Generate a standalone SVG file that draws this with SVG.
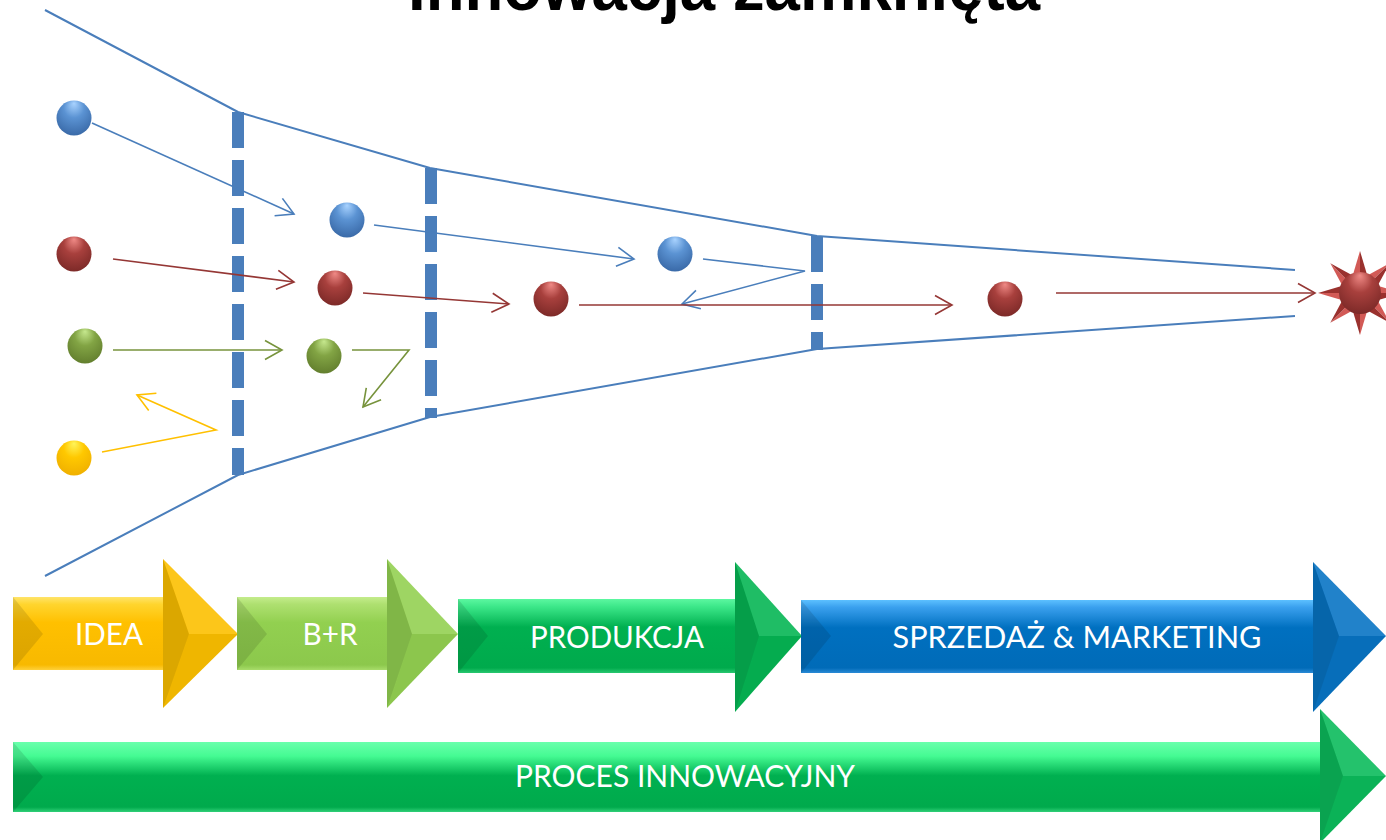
<svg xmlns="http://www.w3.org/2000/svg" width="1386" height="840" viewBox="0 0 1386 840">
  <defs>
    <style>
      .funnel { fill: none; stroke: #4a7ebb; stroke-width: 2; stroke-linejoin: round; }
      .barrier { stroke: #4a7ebb; stroke-width: 12; stroke-dasharray: 36 12; }
      .conn { fill: none; stroke-width: 1.6; stroke-linejoin: miter; }
      .c-blue { stroke: #4a7ebb; }
      .c-red { stroke: #953735; }
      .c-green { stroke: #77933c; }
      .c-yellow { stroke: #ffc000; }
      .label { font-family: Lato, "Open Sans", "Liberation Sans", sans-serif; font-size: 31px; fill: #ffffff; text-anchor: middle; }
      .title { font-family: "Liberation Sans", Arial, sans-serif; font-weight: bold; font-size: 68px; fill: #000000; }
      .lf { fill: #000000; fill-opacity: 0.13; }
      .tf { fill: #ffffff; fill-opacity: 0.1; }
      .bf { fill: #000000; fill-opacity: 0.05; }
      .notch { fill: #000000; fill-opacity: 0.11; }
    </style>

    <!-- open V arrowheads -->
    <marker id="ah-blue" viewBox="-20 -12 24 24" markerWidth="24" markerHeight="24" refX="0" refY="0" orient="auto" markerUnits="userSpaceOnUse" overflow="visible">
      <path d="M-17,-9.5 L0,0 L-17,9.5" fill="none" stroke="#4a7ebb" stroke-width="1.6"/>
    </marker>
    <marker id="ah-red" viewBox="-20 -12 24 24" markerWidth="24" markerHeight="24" refX="0" refY="0" orient="auto" markerUnits="userSpaceOnUse" overflow="visible">
      <path d="M-17,-9.5 L0,0 L-17,9.5" fill="none" stroke="#953735" stroke-width="1.6"/>
    </marker>
    <marker id="ah-green" viewBox="-20 -12 24 24" markerWidth="24" markerHeight="24" refX="0" refY="0" orient="auto" markerUnits="userSpaceOnUse" overflow="visible">
      <path d="M-17,-9.5 L0,0 L-17,9.5" fill="none" stroke="#77933c" stroke-width="1.6"/>
    </marker>
    <marker id="ah-yellow" viewBox="-20 -12 24 24" markerWidth="24" markerHeight="24" refX="0" refY="0" orient="auto" markerUnits="userSpaceOnUse" overflow="visible">
      <path d="M-17,-9.5 L0,0 L-17,9.5" fill="none" stroke="#ffc000" stroke-width="1.6"/>
    </marker>

    <!-- glossy spheres -->
    <radialGradient id="sph-blue" cx="50%" cy="35%" r="65%" fx="50%" fy="8%">
      <stop offset="0" stop-color="#a9d3ff"/>
      <stop offset="0.45" stop-color="#5b93d3"/>
      <stop offset="1" stop-color="#3a6aa8"/>
    </radialGradient>
    <radialGradient id="sph-red" cx="50%" cy="35%" r="65%" fx="50%" fy="8%">
      <stop offset="0" stop-color="#f08a86"/>
      <stop offset="0.45" stop-color="#a8403d"/>
      <stop offset="1" stop-color="#7d2a28"/>
    </radialGradient>
    <radialGradient id="sph-green" cx="50%" cy="35%" r="65%" fx="50%" fy="8%">
      <stop offset="0" stop-color="#c6e88e"/>
      <stop offset="0.45" stop-color="#82a444"/>
      <stop offset="1" stop-color="#637f2e"/>
    </radialGradient>
    <radialGradient id="sph-yellow" cx="50%" cy="35%" r="65%" fx="50%" fy="8%">
      <stop offset="0" stop-color="#fff45a"/>
      <stop offset="0.45" stop-color="#ffc800"/>
      <stop offset="1" stop-color="#f0b000"/>
    </radialGradient>

    <!-- block arrow bodies -->
    <linearGradient id="g-yellow" x1="0" y1="0" x2="0" y2="1">
      <stop offset="0" stop-color="#ffe46a"/>
      <stop offset="0.1" stop-color="#ffd52e"/>
      <stop offset="0.35" stop-color="#ffc000"/>
      <stop offset="0.93" stop-color="#f8b900"/>
      <stop offset="1" stop-color="#ffd03a"/>
    </linearGradient>
    <linearGradient id="g-lime" x1="0" y1="0" x2="0" y2="1">
      <stop offset="0" stop-color="#c4ec8c"/>
      <stop offset="0.1" stop-color="#aee070"/>
      <stop offset="0.35" stop-color="#92d050"/>
      <stop offset="0.93" stop-color="#8cc84c"/>
      <stop offset="1" stop-color="#a8dc6a"/>
    </linearGradient>
    <linearGradient id="g-green" x1="0" y1="0" x2="0" y2="1">
      <stop offset="0" stop-color="#5cf7a0"/>
      <stop offset="0.1" stop-color="#3de88a"/>
      <stop offset="0.38" stop-color="#00b050"/>
      <stop offset="0.93" stop-color="#00aa4c"/>
      <stop offset="1" stop-color="#28c870"/>
    </linearGradient>
    <linearGradient id="g-blue" x1="0" y1="0" x2="0" y2="1">
      <stop offset="0" stop-color="#5cc0ff"/>
      <stop offset="0.1" stop-color="#3aa0ee"/>
      <stop offset="0.38" stop-color="#0070c0"/>
      <stop offset="0.93" stop-color="#006bb8"/>
      <stop offset="1" stop-color="#2a8ad6"/>
    </linearGradient>
    <linearGradient id="g-proc" x1="0" y1="0" x2="0" y2="1">
      <stop offset="0" stop-color="#6affac"/>
      <stop offset="0.2" stop-color="#45fb93"/>
      <stop offset="0.48" stop-color="#00b050"/>
      <stop offset="0.93" stop-color="#00aa4c"/>
      <stop offset="1" stop-color="#30d078"/>
    </linearGradient>
  </defs>

  <rect x="0" y="0" width="1386" height="840" fill="#ffffff"/>

  <!-- heading, partly above the top edge -->
  <text class="title" x="408" y="10" textLength="632" lengthAdjust="spacingAndGlyphs">Innowacja zamknięta</text>

  <!-- funnel outline -->
  <g id="funnel">
    <polyline class="funnel" points="45,10 238,112 430,168 817,236 1295,270"/>
    <polyline class="funnel" points="45,576 238,475 430,417 817,349 1295,316"/>
  </g>

  <!-- dashed stage gates -->
  <g id="gates">
    <line class="barrier" x1="238" y1="112" x2="238" y2="475"/>
    <line class="barrier" x1="431" y1="168" x2="431" y2="418"/>
    <line class="barrier" x1="817" y1="236" x2="817" y2="350"/>
  </g>

  <!-- flows between ideas -->
  <g id="connectors">
    <path class="conn c-blue" d="M92,123 L294,214" marker-end="url(#ah-blue)"/>
    <path class="conn c-red" d="M113,259 L294,282" marker-end="url(#ah-red)"/>
    <path class="conn c-green" d="M113,350 L282,350" marker-end="url(#ah-green)"/>
    <path class="conn c-yellow" d="M102,452 L216,430 L137,395" marker-end="url(#ah-yellow)"/>
    <path class="conn c-blue" d="M374,225 L634,259" marker-end="url(#ah-blue)"/>
    <path class="conn c-red" d="M363,293 L509,304" marker-end="url(#ah-red)"/>
    <path class="conn c-green" d="M352,350 L409,350 L363,407" marker-end="url(#ah-green)"/>
    <path class="conn c-blue" d="M703,259 L805,271 L682,304" marker-end="url(#ah-blue)"/>
    <path class="conn c-red" d="M579,305 L952,305" marker-end="url(#ah-red)"/>
    <path class="conn c-red" d="M1056,293 L1315,293" marker-end="url(#ah-red)"/>
  </g>

  <!-- ideas -->
  <g id="idea-blue-1"><circle cx="74" cy="118" r="17.5" fill="url(#sph-blue)"/></g>
  <g id="idea-red-1"><circle cx="74" cy="254" r="17.5" fill="url(#sph-red)"/></g>
  <g id="idea-green-1"><circle cx="85" cy="346" r="17.5" fill="url(#sph-green)"/></g>
  <g id="idea-yellow-1"><circle cx="74" cy="458" r="17.5" fill="url(#sph-yellow)"/></g>
  <g id="idea-blue-2"><circle cx="347" cy="220" r="17.5" fill="url(#sph-blue)"/></g>
  <g id="idea-red-2"><circle cx="335" cy="288" r="17.5" fill="url(#sph-red)"/></g>
  <g id="idea-green-2"><circle cx="324" cy="356" r="17.5" fill="url(#sph-green)"/></g>
  <g id="idea-red-3"><circle cx="551" cy="299" r="17.5" fill="url(#sph-red)"/></g>
  <g id="idea-blue-3"><circle cx="675" cy="254" r="17.5" fill="url(#sph-blue)"/></g>
  <g id="idea-red-4"><circle cx="1005" cy="299" r="17.5" fill="url(#sph-red)"/></g>

  <!-- launched product: eight-point star -->
  <g id="product-star">
    <g fill="#d25a56">
      <polygon points="1352.7,275.4 1360,251 1360,293"/>
      <polygon points="1367.3,275.4 1389.7,263.3 1360,293"/>
      <polygon points="1377.6,285.7 1402,293 1360,293"/>
      <polygon points="1377.6,300.3 1389.7,322.7 1360,293"/>
      <polygon points="1367.3,310.6 1360,335 1360,293"/>
      <polygon points="1352.7,310.6 1330.3,322.7 1360,293"/>
      <polygon points="1342.4,300.3 1318,293 1360,293"/>
      <polygon points="1342.4,285.7 1330.3,263.3 1360,293"/>
    </g>
    <g fill="#9a312e">
      <polygon points="1367.3,275.4 1360,251 1360,293"/>
      <polygon points="1377.6,285.7 1389.7,263.3 1360,293"/>
      <polygon points="1377.6,300.3 1402,293 1360,293"/>
      <polygon points="1367.3,310.6 1389.7,322.7 1360,293"/>
      <polygon points="1352.7,310.6 1360,335 1360,293"/>
      <polygon points="1342.4,300.3 1330.3,322.7 1360,293"/>
      <polygon points="1342.4,285.7 1318,293 1360,293"/>
      <polygon points="1352.7,275.4 1330.3,263.3 1360,293"/>
    </g>
    <circle cx="1360" cy="293" r="21" fill="url(#sph-red)"/>
  </g>

  <!-- process stages -->
  <g id="stage-idea">
    <rect x="13" y="597" width="152" height="73" fill="url(#g-yellow)"/>
    <polygon points="163,559 238,634 163,708" fill="#fcc000"/>
    <polygon class="tf" points="163,559 238,634 189,634"/>
    <polygon class="bf" points="163,708 238,634 189,634"/>
    <polygon class="lf" points="163,559 189,634 163,708"/>
    <polygon class="notch" points="13,597 43,634 13,670"/>
    <text class="label" x="109" y="645" textLength="68" lengthAdjust="spacingAndGlyphs">IDEA</text>
  </g>
  <g id="stage-br">
    <rect x="237" y="597" width="152" height="73" fill="url(#g-lime)"/>
    <polygon points="387,559 458,634 387,708" fill="#94d152"/>
    <polygon class="tf" points="387,559 458,634 412,634"/>
    <polygon class="bf" points="387,708 458,634 412,634"/>
    <polygon class="lf" points="387,559 412,634 387,708"/>
    <polygon class="notch" points="237,597 267,634 237,670"/>
    <text class="label" x="330" y="645" textLength="55" lengthAdjust="spacingAndGlyphs">B+R</text>
  </g>
  <g id="stage-produkcja">
    <rect x="458" y="599" width="279" height="74" fill="url(#g-green)"/>
    <polygon points="735,562 802,636 735,712" fill="#06b654"/>
    <polygon class="tf" points="735,562 802,636 759,636"/>
    <polygon class="bf" points="735,712 802,636 759,636"/>
    <polygon class="lf" points="735,562 759,636 735,712"/>
    <polygon class="notch" points="458,599 488,636 458,673"/>
    <text class="label" x="617" y="648" textLength="174" lengthAdjust="spacingAndGlyphs">PRODUKCJA</text>
  </g>
  <g id="stage-sprzedaz">
    <rect x="801" y="600" width="514" height="73" fill="url(#g-blue)"/>
    <polygon points="1313,562 1386,636 1313,712" fill="#0874c4"/>
    <polygon class="tf" points="1313,562 1386,636 1339,636"/>
    <polygon class="bf" points="1313,712 1386,636 1339,636"/>
    <polygon class="lf" points="1313,562 1339,636 1313,712"/>
    <polygon class="notch" points="801,600 831,636 801,673"/>
    <text class="label" x="1077" y="648" textLength="369" lengthAdjust="spacingAndGlyphs">SPRZEDAŻ &amp; MARKETING</text>
  </g>
  <g id="stage-proces">
    <rect x="13" y="742" width="1309" height="70" fill="url(#g-proc)"/>
    <polygon points="1320,709 1386,776 1320,843" fill="#0cbc5c"/>
    <polygon class="tf" points="1320,709 1386,776 1343,776"/>
    <polygon class="bf" points="1320,843 1386,776 1343,776"/>
    <polygon class="lf" points="1320,709 1343,776 1320,843"/>
    <polygon class="notch" points="13,742 43,777 13,812"/>
    <text class="label" x="685" y="787" textLength="340" lengthAdjust="spacingAndGlyphs">PROCES INNOWACYJNY</text>
  </g>
</svg>
